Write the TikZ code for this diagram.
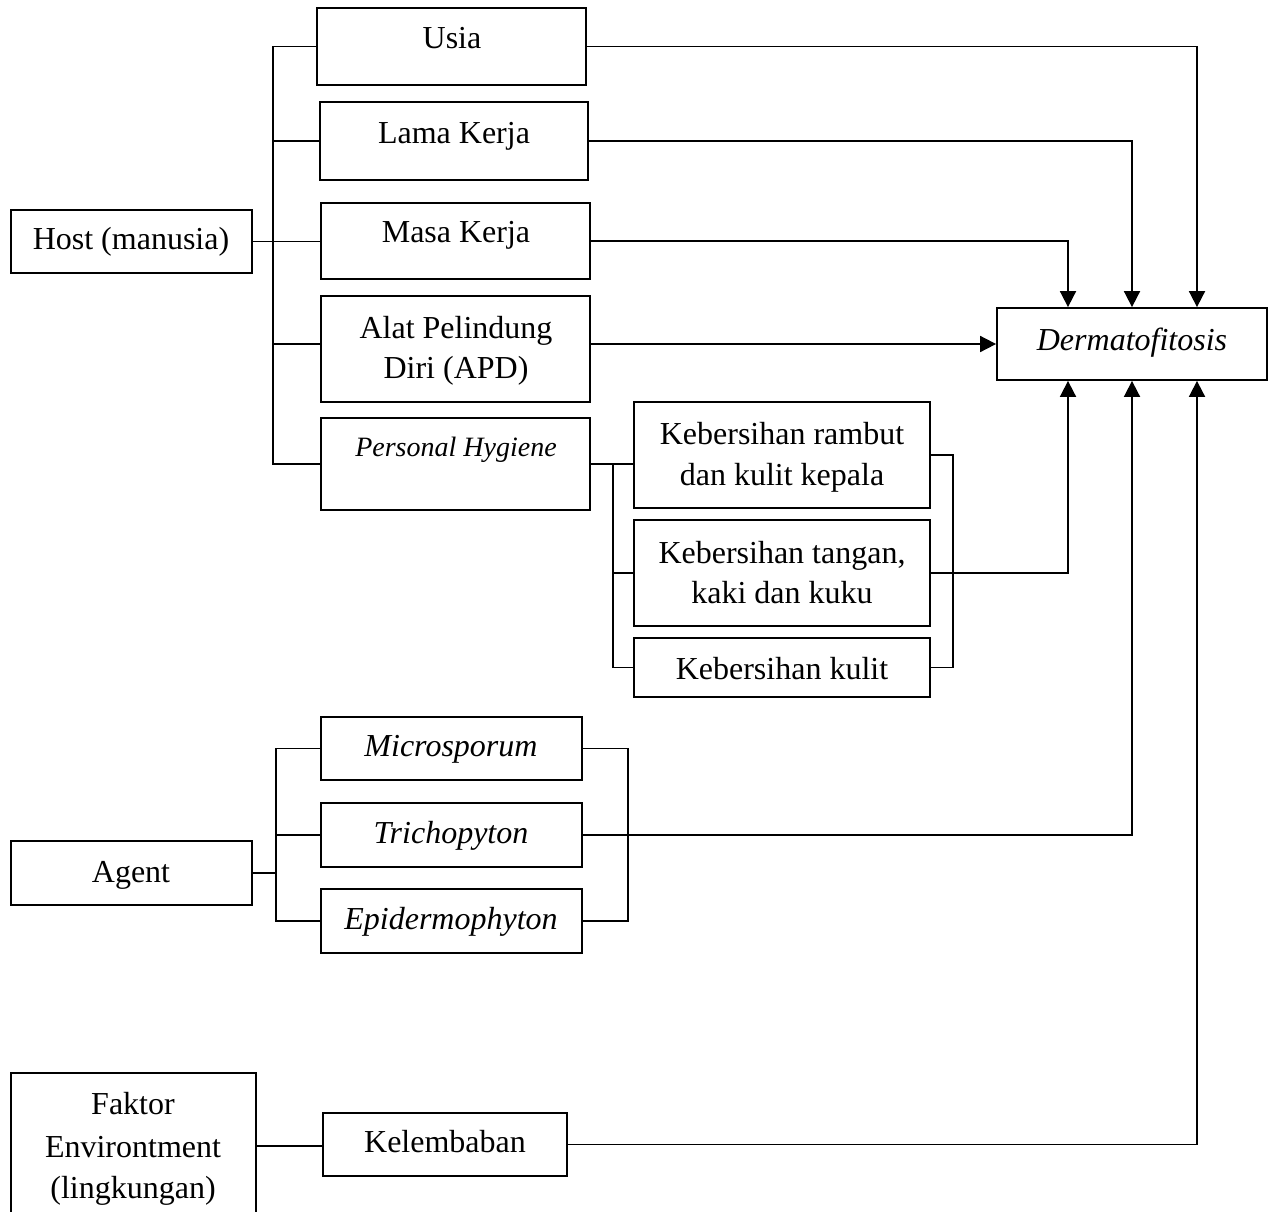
\documentclass[tikz,border=0pt]{standalone}
\usepackage{fontspec}
\setmainfont{Liberation Serif}
\usetikzlibrary{arrows.meta}
\begin{document}
\begin{tikzpicture}[x=1pt,y=-1pt,
  box/.style={draw, line width=1.8pt, inner sep=0pt},
  txt/.style={anchor=base, inner sep=0pt, font=\fontsize{32}{38}\selectfont},
  itxt/.style={anchor=base, inner sep=0pt, font=\fontsize{32}{38}\selectfont\itshape},
  wire/.style={line width=1.8pt},
  arr/.style={wire, -{Triangle[length=16pt,width=16pt]}},
]
\useasboundingbox (0,0) rectangle (1272,1211);
\fill[white] (0,0) rectangle (1272,1211);
% boxes
\node[box, minimum width=241pt, minimum height=63pt] (host) at (131.5,241.5) {};
\node[box, minimum width=269pt, minimum height=77pt] (usia) at (451.5,46.5) {};
\node[box, minimum width=268pt, minimum height=78pt] (lama) at (454,141) {};
\node[box, minimum width=269pt, minimum height=76pt] (masa) at (455.5,241) {};
\node[box, minimum width=269pt, minimum height=106pt] (apd) at (455.5,349) {};
\node[box, minimum width=269pt, minimum height=92pt] (ph) at (455.5,464) {};
\node[box, minimum width=270pt, minimum height=72pt] (derm) at (1132,344) {};
\node[box, minimum width=296pt, minimum height=106pt] (rambut) at (782,455) {};
\node[box, minimum width=296pt, minimum height=106pt] (tangan) at (782,573) {};
\node[box, minimum width=296pt, minimum height=59pt] (kulit) at (782,667.5) {};
\node[box, minimum width=241pt, minimum height=64pt] (agent) at (131.5,873) {};
\node[box, minimum width=261pt, minimum height=63pt] (micro) at (451.5,748.5) {};
\node[box, minimum width=261pt, minimum height=64pt] (tricho) at (451.5,835) {};
\node[box, minimum width=261pt, minimum height=64pt] (epi) at (451.5,921) {};
\node[box, minimum width=245pt, minimum height=146pt] (faktor) at (133.5,1146) {};
\node[box, minimum width=244pt, minimum height=63pt] (kelem) at (445,1144.5) {};
% texts
\node[txt] (t-host) at (131,249) {Host (manusia)};
\node[txt] (t-usia) at (452,48) {Usia};
\node[txt] (t-lama) at (454,143) {Lama Kerja};
\node[txt] (t-masa) at (456,242) {Masa Kerja};
\node[txt] (t-apd1) at (456,338) {Alat Pelindung};
\node[txt] (t-apd2) at (456,378) {Diri (APD)};
\node[anchor=base, inner sep=0pt, font=\fontsize{28}{34}\selectfont\itshape] (t-ph) at (456,456) {Personal Hygiene};
\node[itxt] (t-derm) at (1132,350) {Dermatofitosis};
\node[txt] (t-r1) at (782,444) {Kebersihan rambut};
\node[txt] (t-r2) at (782,485) {dan kulit kepala};
\node[txt] (t-t1) at (782,563) {Kebersihan tangan,};
\node[txt] (t-t2) at (782,603) {kaki dan kuku};
\node[txt] (t-k) at (782,679) {Kebersihan kulit};
\node[itxt] (t-micro) at (451,756) {Microsporum};
\node[itxt] (t-tricho) at (451,843) {Trichopyton};
\node[itxt] (t-epi) at (451,929) {Epidermophyton};
\node[txt] (t-agent) at (131,882) {Agent};
\node[txt] (t-f1) at (133,1114) {Faktor};
\node[txt] (t-f2) at (133,1157) {Environtment};
\node[txt] (t-f3) at (133,1198) {(lingkungan)};
\node[txt] (t-kelem) at (445,1152) {Kelembaban};
% host connectors
\coordinate (hb) at (273,0);
\draw[wire] (usia.west) -- (usia.west -| hb) |- (ph.west);
\draw[wire] (lama.west) -- (lama.west -| hb);
\draw[wire] (host.east) -- (host.east -| masa.west);
\draw[wire] (apd.west |- derm.west) -- (hb |- derm.west);
% arrows into Dermatofitosis
\path (derm.north) ++(-64,0) coordinate (n1) ++(64,0) coordinate (n2) ++(65,0) coordinate (n3);
\path (derm.south) ++(-64,0) coordinate (s1) ++(64,0) coordinate (s2) ++(65,0) coordinate (s3);
\draw[arr] (usia.east) -| (n3);
\draw[arr] (lama.east) -| (n2);
\draw[arr] (masa.east) -| (n1);
\draw[arr] (apd.east |- derm.west) -- (derm.west);
% personal hygiene group
\coordinate (kb1) at (613,0);
\coordinate (kb2) at (953,0);
\draw[wire] (ph.east) -- (ph.east -| rambut.west);
\draw[wire] (ph.east -| kb1) |- (kulit.west);
\draw[wire] (tangan.west -| kb1) -- (tangan.west);
\draw[wire] (rambut.east) -- (rambut.east -| kb2) |- (kulit.east);
\draw[arr] (tangan.east) -| (s1);
% agent group
\coordinate (ab1) at (276,0);
\coordinate (ab2) at (628,0);
\draw[wire] (agent.east) -- (agent.east -| ab1);
\draw[wire] (micro.west) -- (micro.west -| ab1) |- (epi.west);
\draw[wire] (tricho.west) -- (tricho.west -| ab1);
\draw[wire] (micro.east) -- (micro.east -| ab2) |- (epi.east);
\draw[arr] (tricho.east) -| (s2);
% environment
\draw[wire] (faktor.east) -- (faktor.east -| kelem.west);
\draw[arr] (kelem.east) -| (s3);
\end{tikzpicture}
\end{document}
